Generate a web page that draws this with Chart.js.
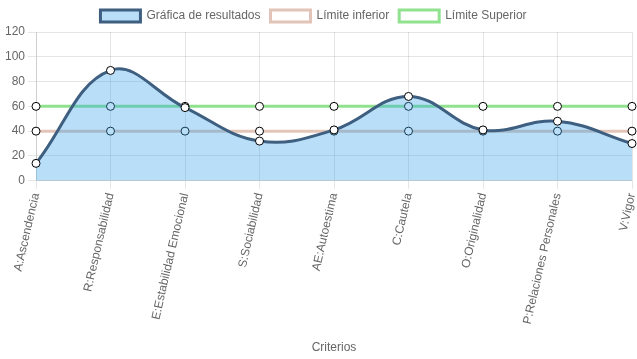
<!DOCTYPE html>
<html><head><meta charset="utf-8">
<script src="https://cdn.jsdelivr.net/npm/chart.js@4/dist/chart.umd.min.js"></script>
<style>html,body{margin:0;padding:0;background:#fff}#w{width:637px;height:359px}</style>
</head><body><div id="w"><canvas id="c"></canvas></div>
<script>
const categories = ["A:Ascendencia","R:Responsabilidad","E:Estabilidad Emocional","S:Sociabilidad","AE:Autoestima","C:Cautela","O:Originalidad","P:Relaciones Personales","V:Vigor"];
const resultados = [14, 89, 59, 32, 41, 68, 41, 48, 30];
const limiteInferior = [40, 40, 40, 40, 40, 40, 40, 40, 40];
const limiteSuperior = [60, 60, 60, 60, 60, 60, 60, 60, 60];
const yTicks = [0, 20, 40, 60, 80, 100, 120];

Chart.defaults.font.family = "'Liberation Sans', Arial, sans-serif";
Chart.defaults.font.size = 12;
Chart.defaults.color = '#666';

const legendShift = {
  id: 'legendShift',
  afterLayout(chart) { if (chart.legend) { chart.legend.left -= 6; chart.legend.right -= 6; } }
};

new Chart(document.getElementById('c'), {
  type: 'line',
  plugins: [legendShift],
  data: {
    labels: categories,
    datasets: [
      { label: 'Gráfica de resultados', data: resultados, fill: 'origin',
        backgroundColor: 'rgba(54,162,235,0.35)', borderColor: '#3e5f80', borderWidth: 3,
        tension: 0.4, pointRadius: 4, pointBorderWidth: 1, pointBackgroundColor: '#fff', pointBorderColor: '#000' },
      { label: 'Límite inferior', data: limiteInferior, fill: false,
        backgroundColor: '#fff', borderColor: '#e2c5b8', borderWidth: 3,
        tension: 0, pointRadius: 4, pointBorderWidth: 1, pointBackgroundColor: '#fff', pointBorderColor: '#000' },
      { label: 'Límite Superior', data: limiteSuperior, fill: false,
        backgroundColor: '#fff', borderColor: '#90e28e', borderWidth: 3,
        tension: 0, pointRadius: 4, pointBorderWidth: 1, pointBackgroundColor: '#fff', pointBorderColor: '#000' }
    ]
  },
  options: {
    responsive: true, maintainAspectRatio: false, animation: false,
    layout: { padding: { left: 2, right: 0 } },
    plugins: {
      legend: { labels: { boxWidth: 40, boxHeight: 12 } },
      tooltip: { enabled: false }
    },
    scales: {
      x: { grid: { color: 'rgba(0,0,0,0.1)' },
        ticks: { minRotation: 77, maxRotation: 77 },
        title: { display: true, text: 'Criterios' },
        afterFit: (ax) => { ax.height += 8; ax.paddingRight = 4; } },
      y: { min: 0, max: 120, grid: { color: 'rgba(0,0,0,0.1)' },
        afterBuildTicks: (ax) => { ax.ticks = yTicks.map(v => ({ value: v })); } }
    }
  }
});
</script></body></html>
